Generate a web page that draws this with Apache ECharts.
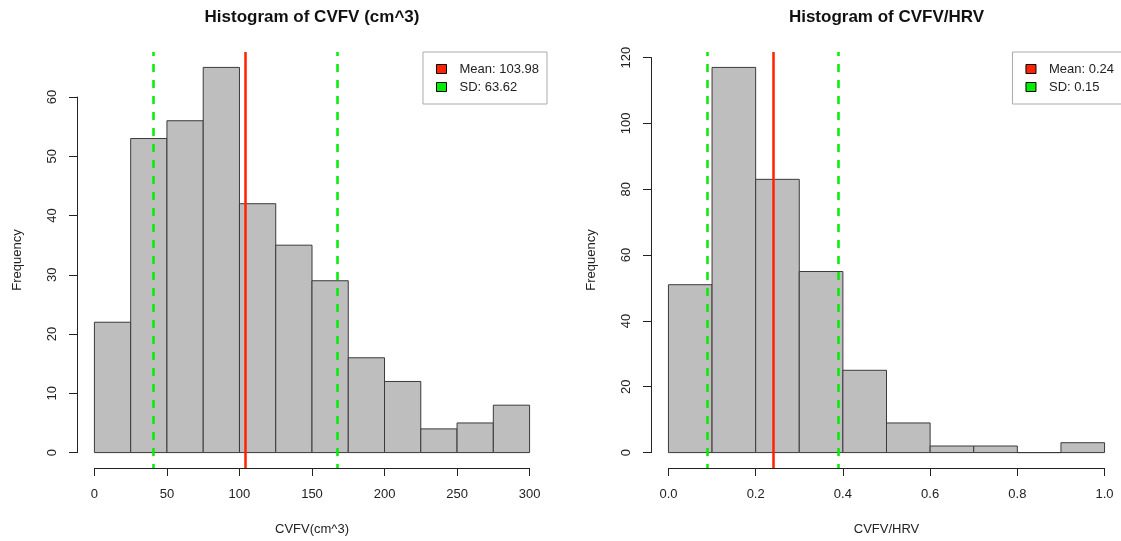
<!DOCTYPE html>
<html>
<head>
<meta charset="utf-8">
<script src="https://cdn.jsdelivr.net/npm/echarts@6/dist/echarts.min.js"></script>
<style>
  html, body { margin: 0; padding: 0; background: #fff; }
  #main { width: 1121px; height: 541px; }
</style>
</head>
<body>
<div id="main"></div>
<script>
// histogram data
var cvfvBreaks = [0, 25, 50, 75, 100, 125, 150, 175, 200, 225, 250, 275, 300];
var cvfvCounts = [22, 53, 56, 65, 42, 35, 29, 16, 12, 4, 5, 8];
var cvfvXTicks = [0, 50, 100, 150, 200, 250, 300];
var cvfvYTicks = [0, 10, 20, 30, 40, 50, 60];
var cvfvMean = 103.98;
var cvfvSd = 63.62;

var ratioBreaks = [0, 0.1, 0.2, 0.3, 0.4, 0.5, 0.6, 0.7, 0.8, 0.9, 1.0];
var ratioCounts = [51, 117, 83, 55, 25, 9, 2, 2, 0, 3];
var ratioXTicks = [0, 0.2, 0.4, 0.6, 0.8, 1.0];
var ratioYTicks = [0, 20, 40, 60, 80, 100, 120];
var ratioMean = 0.24;
var ratioSd = 0.15;

var FONT = '"Liberation Sans", Arial, sans-serif';
var TEXT = '#222';

var option = {
    animation: false,
    backgroundColor: '#fff',
    grid: [],
    xAxis: [],
    yAxis: [],
    series: [],
    legend: [],
    graphic: []
};

function addPanel(cfg) {
    // R-style plot region, data range padded by 4% on each side
    var L = cfg.left, T = 52, W = cfg.width, H = 416;
    var xa = cfg.breaks[0], xb = cfg.breaks[cfg.breaks.length - 1];
    var xpad = (xb - xa) * 0.04;
    var ymax = Math.max.apply(null, cfg.counts);
    var ypad = ymax * 0.04;
    var xlim = [xa - xpad, xb + xpad];
    var ylim = [-ypad, ymax + ypad];
    var px = function (v) { return L + (v - xlim[0]) / (xlim[1] - xlim[0]) * W; };
    var py = function (v) { return T + H - (v - ylim[0]) / (ylim[1] - ylim[0]) * H; };

    var xt = cfg.xTicks, yt = cfg.yTicks;
    var g = option.grid.length;
    var x0 = option.xAxis.length, y0 = option.yAxis.length;

    option.grid.push(
        {left: L, top: T, width: W, height: H, outerBoundsMode: 'none'},
        {left: px(xt[0]), top: T, width: px(xt[xt.length - 1]) - px(xt[0]), height: H, outerBoundsMode: 'none'},
        {left: L, top: py(yt[yt.length - 1]), width: W, height: py(yt[0]) - py(yt[yt.length - 1]), outerBoundsMode: 'none'}
    );

    var hidden = {show: false};
    var axisLine = {show: true, lineStyle: {color: TEXT, width: 1}};
    var axisTick = {show: true, length: 8, lineStyle: {color: TEXT, width: 1}};
    var label = {color: TEXT, fontFamily: FONT, fontSize: 13};

    option.xAxis.push(
        {
            gridIndex: g, type: 'value', min: xlim[0], max: xlim[1],
            axisLine: hidden, axisTick: hidden, axisLabel: hidden, splitLine: hidden,
            name: cfg.xName, nameLocation: 'middle', nameGap: 55,
            nameTextStyle: label
        },
        {
            gridIndex: g + 1, type: 'value', min: xt[0], max: xt[xt.length - 1],
            interval: xt[1] - xt[0],
            axisLine: axisLine, axisTick: axisTick, splitLine: hidden,
            axisLabel: Object.assign({margin: 20, showMinLabel: true, showMaxLabel: true,
                formatter: cfg.xFmt}, label)
        },
        {gridIndex: g + 2, type: 'value', show: false}
    );
    option.yAxis.push(
        {
            gridIndex: g, type: 'value', min: ylim[0], max: ylim[1],
            axisLine: hidden, axisTick: hidden, axisLabel: hidden, splitLine: hidden,
            name: 'Frequency', nameLocation: 'middle', nameGap: 53,
            nameTextStyle: label
        },
        {gridIndex: g + 1, type: 'value', show: false},
        {
            gridIndex: g + 2, type: 'value', min: yt[0], max: yt[yt.length - 1],
            interval: yt[1] - yt[0],
            axisLine: axisLine, axisTick: axisTick, splitLine: hidden,
            axisLabel: Object.assign({margin: 18, rotate: 90}, label)
        }
    );

    var bins = cfg.counts.map(function (c, i) {
        return [cfg.breaks[i], cfg.breaks[i + 1], c];
    });

    var meanName = 'Mean: ' + cfg.meanText;
    var sdName = 'SD: ' + cfg.sdText;

    option.series.push(
        {
            type: 'custom',
            xAxisIndex: x0, yAxisIndex: y0,
            data: bins,
            silent: true,
            renderItem: function (params, api) {
                var p0 = api.coord([api.value(0), 0]);
                var p1 = api.coord([api.value(1), api.value(2)]);
                return {
                    type: 'rect',
                    shape: {x: p0[0], y: p1[1], width: p1[0] - p0[0], height: p0[1] - p1[1]},
                    style: {fill: '#bebebe', stroke: '#3a3a3a', lineWidth: 1}
                };
            }
        },
        {
            name: sdName,
            type: 'line',
            xAxisIndex: x0, yAxisIndex: y0,
            data: [],
            color: '#00ee00',
            markLine: {
                silent: true,
                symbol: ['none', 'none'],
                label: {show: false},
                lineStyle: {color: '#00ee00', width: 2.5, type: [8, 8], dashOffset: 4},
                data: [{xAxis: cfg.mean - cfg.sd}, {xAxis: cfg.mean + cfg.sd}]
            }
        },
        {
            name: meanName,
            type: 'line',
            xAxisIndex: x0, yAxisIndex: y0,
            data: [],
            color: '#ff2200',
            z: 3,
            markLine: {
                silent: true,
                symbol: ['none', 'none'],
                label: {show: false},
                lineStyle: {color: '#ff2200', width: 2.5, type: 'solid'},
                data: [{xAxis: cfg.mean}]
            }
        }
    );

    option.legend.push({
        orient: 'vertical',
        right: 1121 - (L + W),
        top: T,
        padding: [10, 8, 10, 13],
        borderColor: '#aaa',
        borderWidth: 1,
        itemWidth: 10,
        itemHeight: 9,
        itemGap: 4,
        selectedMode: false,
        textStyle: {color: TEXT, fontFamily: FONT, fontSize: 13, lineHeight: 14, padding: [0, 0, 0, 8]},
        data: [
            {name: meanName, icon: 'rect', itemStyle: {color: '#ff2200', borderColor: '#000', borderWidth: 1}},
            {name: sdName, icon: 'rect', itemStyle: {color: '#00ee00', borderColor: '#000', borderWidth: 1}}
        ]
    });

    option.graphic.push({
        type: 'text',
        x: L + W / 2,
        y: 17,
        style: {
            text: cfg.title,
            font: 'bold 17px ' + FONT,
            fill: '#111',
            align: 'center',
            verticalAlign: 'middle'
        }
    });
}

addPanel({
    left: 77, width: 470,
    breaks: cvfvBreaks, counts: cvfvCounts,
    xTicks: cvfvXTicks, yTicks: cvfvYTicks,
    mean: cvfvMean, sd: cvfvSd, meanText: '103.98', sdText: '63.62',
    title: 'Histogram of CVFV (cm^3)', xName: 'CVFV(cm^3)',
    xFmt: function (v) { return String(v); }
});

addPanel({
    left: 651, width: 471,
    breaks: ratioBreaks, counts: ratioCounts,
    xTicks: ratioXTicks, yTicks: ratioYTicks,
    mean: ratioMean, sd: ratioSd, meanText: '0.24', sdText: '0.15',
    title: 'Histogram of CVFV/HRV', xName: 'CVFV/HRV',
    xFmt: function (v) { return v.toFixed(1); }
});

var chart = echarts.init(document.getElementById('main'), null, {renderer: 'canvas'});
chart.setOption(option);
</script>
</body>
</html>
